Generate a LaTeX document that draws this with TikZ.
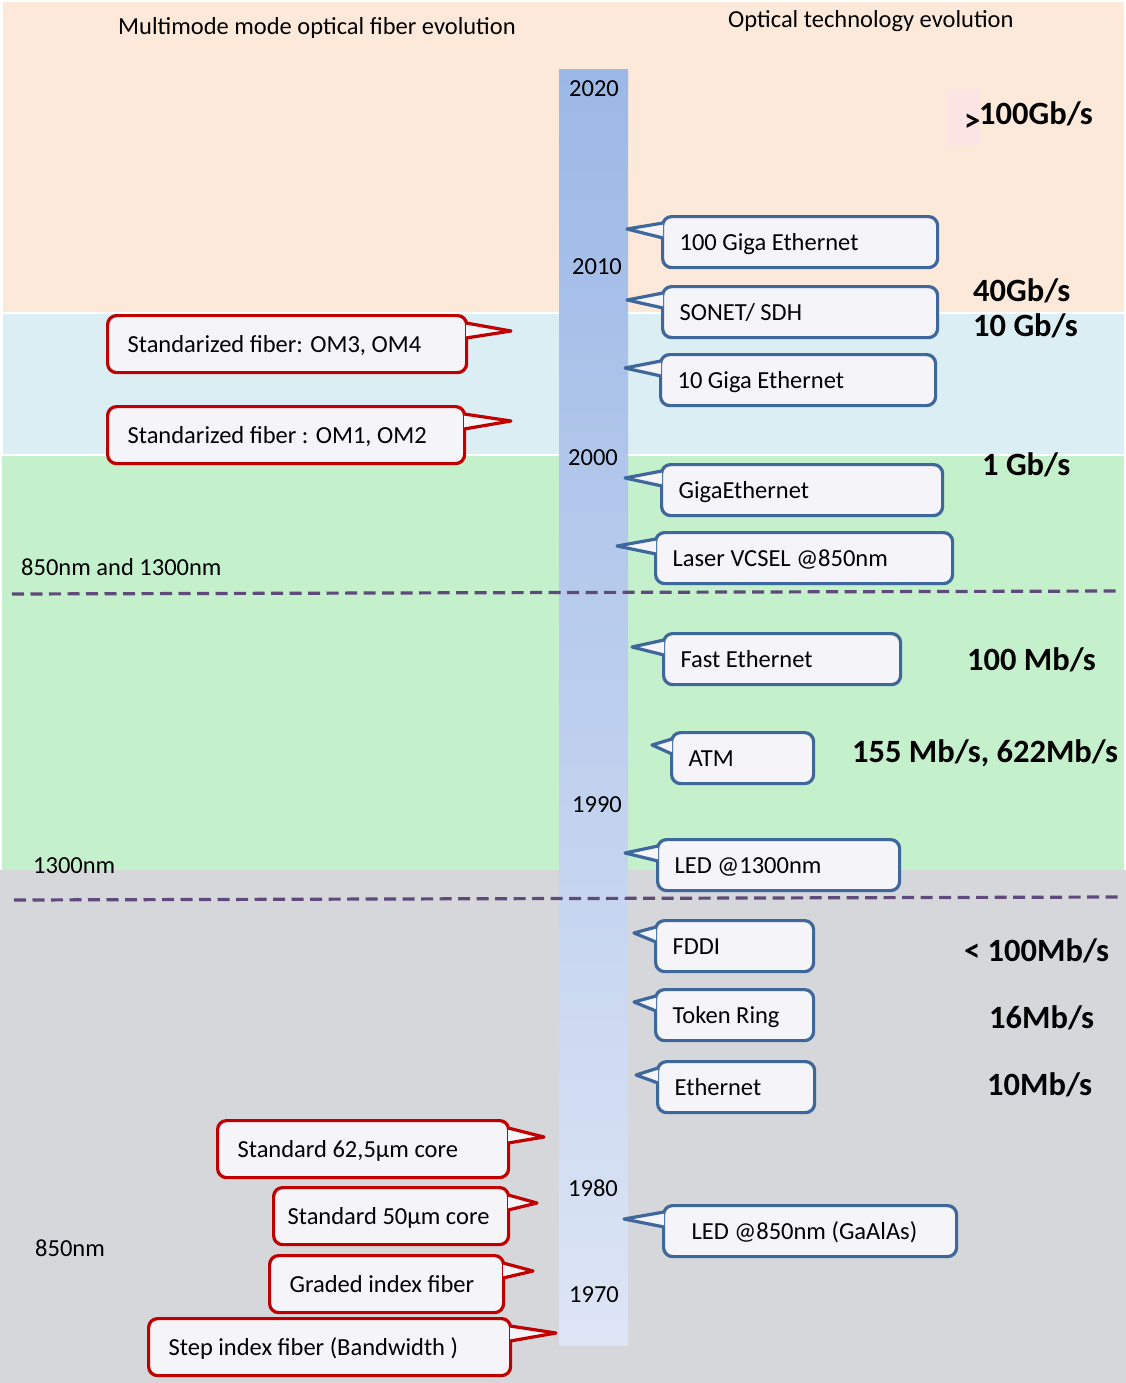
\documentclass[tikz,border=0pt]{standalone}
\usepackage{fontspec}
\setmainfont{Carlito}
\usepackage{xcolor}
\usetikzlibrary{calc}

\definecolor{peach}{HTML}{FDE9D9}
\definecolor{iceblue}{HTML}{DAEEF3}
\definecolor{mint}{HTML}{C4F0CC}
\definecolor{greyband}{HTML}{D6D7DA}
\definecolor{bartop}{HTML}{9CB8E6}
\definecolor{barbottom}{HTML}{DDE5F5}
\definecolor{boxfill}{HTML}{F5F4F9}
\definecolor{boxblue}{HTML}{3E679B}
\definecolor{boxred}{HTML}{C00000}
\definecolor{dashpurple}{HTML}{604A7B}
\definecolor{pinkpatch}{HTML}{FDE4E4}

\begin{document}
\begin{tikzpicture}[x=1pt,y=-1pt]
\tikzstyle{every node}+=[inner sep=0pt]
\tikzstyle{bluebox}=[draw=boxblue, line width=3.2pt, fill=boxfill, rounded corners=9pt, minimum height=51pt, anchor=north west, inner xsep=17pt, align=left, text height=16pt, text depth=0pt, font=\fontsize{24.5}{29}\selectfont, execute at begin node={\spaceskip=0pt\xspaceskip=0pt\relax}]
\tikzstyle{redbox}=[bluebox, draw=boxred, minimum height=57pt, inner xsep=20pt]
\tikzstyle{bluetail}=[draw=boxblue, fill=boxfill, line width=3.2pt, line join=round]
\tikzstyle{redtail}=[bluetail, draw=boxred]
\tikzstyle{plain}=[anchor=base west, font=\fontsize{24.5}{29}\selectfont]
\tikzstyle{year}=[plain, anchor=base]
\tikzstyle{rate}=[anchor=base west, font=\fontsize{32.5}{38}\selectfont\bfseries]
\tikzstyle{dashline}=[draw=dashpurple, line width=3.2pt, dash pattern=on 12pt off 6.5pt]
\useasboundingbox (0,0) rectangle (1126,1383);
% bands
\fill [peach] (3,2) rectangle (1124,312);
\fill [iceblue] (3,314) rectangle (1124,454);
\fill [mint] (2,456) rectangle (1124,870);
\fill [greyband] (0,870) rectangle (1126,1383);
\fill [pinkpatch] (946,89) rectangle (979,145);
% time bar
\shade [top color=bartop, bottom color=barbottom] (559,70) rectangle (628,1345);
\draw [dashline] (12,594) -- (1120,591);
\draw [dashline] (14,900) -- (1120,897);
% headings and years
\node [plain] (hleft) at (118,35) {Multimode mode optical fiber evolution};
\node [plain] (hright) at (728,28) {Optical technology evolution};
\node [year] (y2020) at (594,97) {2020};
\node [year] (y2010) at (597,274) {2010};
\node [year] (y2000) at (593,465) {2000};
\node [year] (y1990) at (597,812) {1990};
\node [year] (y1980) at (593,1196) {1980};
\node [year] (y1970) at (594,1302) {1970};
\node [plain] (w1) at (21,575) {850nm and 1300nm};
\node [plain] (w2) at (33,873) {1300nm};
\node [plain] (w3) at (35,1256) {850nm};
% rates
\node [rate] (gt) at (964,132) {>};
\node [rate] (r100g) at (979,125) {100Gb/s};
\node [rate] (r40g) at (973,301) {40Gb/s};
\node [rate] (r10g) at (973,336) {10 Gb/s};
\node [rate] (r1g) at (982,475) {1 Gb/s};
\node [rate] (r100m) at (967,670) {100 Mb/s};
\node [rate] (ratm) at (852,762) {155 Mb/s, 622Mb/s};
\node [rate] (rfddi) at (964,961) {< 100Mb/s};
\node [rate] (r16m) at (989,1028) {16Mb/s};
\node [rate] (r10m) at (987,1095) {10Mb/s};
% tips on the bar
\coordinate (t1) at (627,229);
\coordinate (t2) at (627,300);
\coordinate (t3) at (625,368);
\coordinate (t4) at (625,478);
\coordinate (t5) at (617,546);
\coordinate (t6) at (632,647);
\coordinate (t7) at (652,745);
\coordinate (t8) at (625,853);
\coordinate (t9) at (634,933);
\coordinate (t10) at (634,1002);
\coordinate (t11) at (636,1075);
\coordinate (t12) at (624,1219);
\coordinate (s1) at (511,331);
\coordinate (s2) at (511,421);
\coordinate (s3) at (544,1137);
\coordinate (s4) at (537,1203);
\coordinate (s5) at (533,1271);
\coordinate (s6) at (556,1333);
% optical technology callouts
\node [bluebox, text width=241pt] (ge100) at (661,215) {100 Giga Ethernet};
\node [bluebox, text width=241pt] (sonet) at (661,285) {SONET/ SDH};
\node [bluebox, text width=241pt] (ge10) at (659,353) {10 Giga Ethernet};
\node [bluebox, text width=247pt] (gige) at (660,463) {GigaEthernet};
\node [bluebox, text width=263pt] (vcsel) at (654,531) {Laser VCSEL @850nm};
\node [bluebox, text width=203pt] (fast) at (662,632) {Fast Ethernet};
\node [bluebox, text width=108pt] (atm) at (670,731) {ATM};
\node [bluebox, text width=208pt] (led13) at (656,838) {LED @1300nm};
\node [bluebox, text width=124pt] (fddi) at (654,919) {FDDI};
\node [bluebox, text width=124pt] (token) at (654,988) {Token Ring};
\node [bluebox, text width=123pt] (ether) at (656,1060) {Ethernet};
\node [bluebox, text width=237pt, inner xsep=28pt] (led85) at (662,1204) {LED @850nm (GaAlAs)};
\filldraw [bluetail] ($(ge100.north west)+(2,8)$) -- (t1) -- ($(ge100.north west)+(2,23)$);
\filldraw [bluetail] ($(sonet.north west)+(2,8)$) -- (t2) -- ($(sonet.north west)+(2,23)$);
\filldraw [bluetail] ($(ge10.north west)+(2,8)$) -- (t3) -- ($(ge10.north west)+(2,23)$);
\filldraw [bluetail] ($(gige.north west)+(2,8)$) -- (t4) -- ($(gige.north west)+(2,23)$);
\filldraw [bluetail] ($(vcsel.north west)+(2,8)$) -- (t5) -- ($(vcsel.north west)+(2,23)$);
\filldraw [bluetail] ($(fast.north west)+(2,8)$) -- (t6) -- ($(fast.north west)+(2,23)$);
\filldraw [bluetail] ($(atm.north west)+(2,8)$) -- (t7) -- ($(atm.north west)+(2,23)$);
\filldraw [bluetail] ($(led13.north west)+(2,8)$) -- (t8) -- ($(led13.north west)+(2,23)$);
\filldraw [bluetail] ($(fddi.north west)+(2,8)$) -- (t9) -- ($(fddi.north west)+(2,23)$);
\filldraw [bluetail] ($(token.north west)+(2,8)$) -- (t10) -- ($(token.north west)+(2,23)$);
\filldraw [bluetail] ($(ether.north west)+(2,8)$) -- (t11) -- ($(ether.north west)+(2,23)$);
\filldraw [bluetail] ($(led85.north west)+(2,8)$) -- (t12) -- ($(led85.north west)+(2,23)$);
% fiber callouts
\node [redbox, text width=319pt] (om34) at (106,314) {Standarized fiber: OM3, OM4};
\node [redbox, text width=317pt] (om12) at (106,405) {Standarized fiber : OM1, OM2};
\node [redbox, text width=251pt] (core62) at (216,1119) {Standard 62,5µm core};
\node [redbox, text width=207pt, inner xsep=14pt] (core50) at (272,1186) {Standard 50µm core};
\node [redbox, text width=194pt] (graded) at (268,1254) {Graded index fiber};
\node [redbox, text width=322pt] (stepidx) at (147,1317) {Step index fiber (Bandwidth )};
\filldraw [redtail] ($(om34.north east)+(-2,9)$) -- (s1) -- ($(om34.north east)+(-2,24)$);
\filldraw [redtail] ($(om12.north east)+(-2,9)$) -- (s2) -- ($(om12.north east)+(-2,24)$);
\filldraw [redtail] ($(core62.north east)+(-2,9)$) -- (s3) -- ($(core62.north east)+(-2,24)$);
\filldraw [redtail] ($(core50.north east)+(-2,9)$) -- (s4) -- ($(core50.north east)+(-2,24)$);
\filldraw [redtail] ($(graded.north east)+(-2,9)$) -- (s5) -- ($(graded.north east)+(-2,24)$);
\filldraw [redtail] ($(stepidx.north east)+(-2,9)$) -- (s6) -- ($(stepidx.north east)+(-2,24)$);
\end{tikzpicture}
\end{document}
